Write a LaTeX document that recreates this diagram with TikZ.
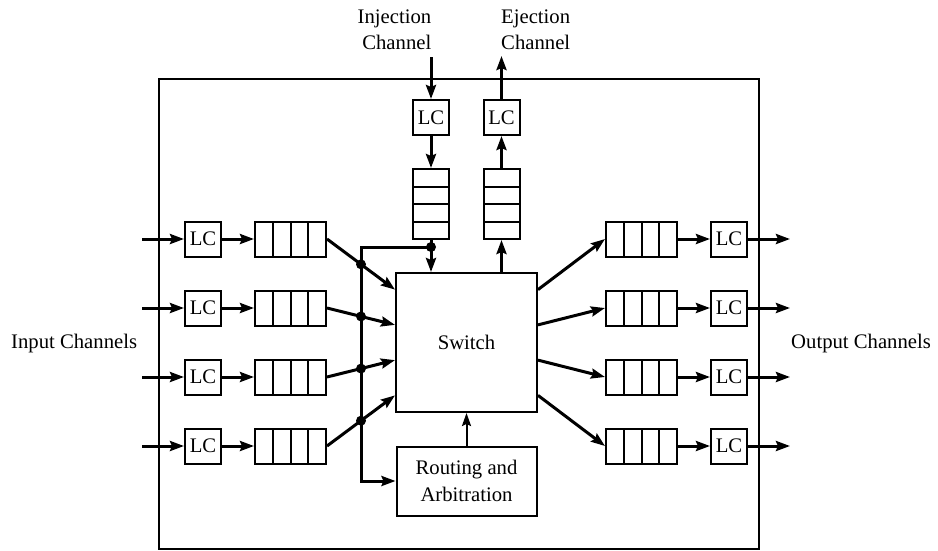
\documentclass[tikz,border=0pt]{standalone}
\usepackage{fontspec}
\setmainfont{Liberation Serif}
\usetikzlibrary{arrows.meta,calc}
\tikzset{
  box/.style={draw, line width=2pt, inner sep=0pt, font=\fontsize{20.7}{27}\selectfont},
  lcbox/.style={box, minimum width=36pt, minimum height=35pt},
  hqueue/.style={draw, line width=2pt, minimum width=71pt, minimum height=35pt, inner sep=0pt,
    path picture={\foreach \i in {1,2,3}{\draw[line width=2pt]
      ($(path picture bounding box.south west)!\i/4!(path picture bounding box.south east)$) --
      ($(path picture bounding box.north west)!\i/4!(path picture bounding box.north east)$);}}},
  vqueue/.style={draw, line width=2pt, minimum width=36pt, minimum height=70pt, inner sep=0pt,
    path picture={\foreach \i in {1,2,3}{\draw[line width=2pt]
      ($(path picture bounding box.south west)!\i/4!(path picture bounding box.north west)$) --
      ($(path picture bounding box.south east)!\i/4!(path picture bounding box.north east)$);}}},
  conn/.style={line width=3pt, -{Stealth[length=14pt,width=10pt,inset=2pt]}},
  dot/.style={circle, fill, inner sep=0pt, minimum size=10pt},
  lbl/.style={inner sep=0pt, font=\fontsize{20.7}{26}\selectfont}
}
\begin{document}
\begin{tikzpicture}[x=1pt,y=-1pt]
\useasboundingbox (0,0) rectangle (938,550);
% outer router box
\draw[line width=1.8pt] (159,79) rectangle (759,549);
% switch and routing
\node[box, minimum width=141pt, minimum height=139pt] (sw) at (466.5,342.5) {Switch};
\node[box, minimum width=140pt, minimum height=69pt, align=center] (rt) at (466.5,481) {Routing and\\Arbitration};
\draw[conn, line width=2pt, -{Stealth[length=13pt,width=9pt,inset=2pt]}] (rt.north) -- (sw.south);
% inputs
\foreach \i/\y/\f in {1/239/0.125, 2/308/0.375, 3/377/0.625, 4/446/0.875}{
  \coordinate (in\i) at (142,\y);
  \node[lcbox] (ilc\i) at (203,\y) {LC};
  \node[hqueue] (iq\i) at (290.5,\y) {};
  \draw[conn] (in\i) -- (ilc\i);
  \draw[conn] (ilc\i) -- (iq\i);
  \coordinate (sin\i) at ($(sw.north west)!\f!(sw.south west)$);
  \draw[conn] (iq\i.east) -- (sin\i);
  \node[dot] (d\i) at ($(iq\i.east)!0.5!(sin\i)$) {};
}
% outputs
\foreach \i/\y/\f in {1/239/0.125, 2/308/0.375, 3/377/0.625, 4/446/0.875}{
  \coordinate (sout\i) at ($(sw.north east)!\f!(sw.south east)$);
  \node[hqueue] (oq\i) at (641.5,\y) {};
  \node[lcbox] (olc\i) at (729,\y) {LC};
  \coordinate (out\i) at (790,\y);
  \draw[conn] (sout\i) -- (oq\i.west);
  \draw[conn] (oq\i) -- (olc\i);
  \draw[conn] (olc\i) -- (out\i);
}
% injection
\coordinate (injin) at (431,57);
\node[lcbox] (ilc) at (431,117.5) {LC};
\node[vqueue] (iqv) at (431,204) {};
\draw[conn] (injin) -- (ilc);
\draw[conn] (ilc) -- (iqv);
\draw[conn] (iqv.south) -- (iqv.south |- sw.north);
\node[dot] (dinj) at (431,247) {};
% ejection
\node[lcbox] (elc) at (501.5,117.5) {LC};
\node[vqueue] (eqv) at (501.5,204) {};
\coordinate (ejout) at (501.5,56);
\draw[conn] (eqv.south |- sw.north) -- (eqv.south);
\draw[conn] (eqv) -- (elc);
\draw[conn] (elc) -- (ejout);
% bus to routing
\coordinate (busb) at (361,481);
\draw[conn] (dinj.center) -| (busb) -- (rt.west);
% labels
\node[lbl, align=right, anchor=east] (injl) at (431.5,30) {Injection\\Channel};
\node[lbl, align=left, anchor=west] (ejl) at (501,30) {Ejection\\Channel};
\node[lbl, anchor=west] (inl) at (11,344) {Input Channels};
\node[lbl, anchor=west] (outl) at (791,344) {Output Channels};
\end{tikzpicture}
\end{document}
